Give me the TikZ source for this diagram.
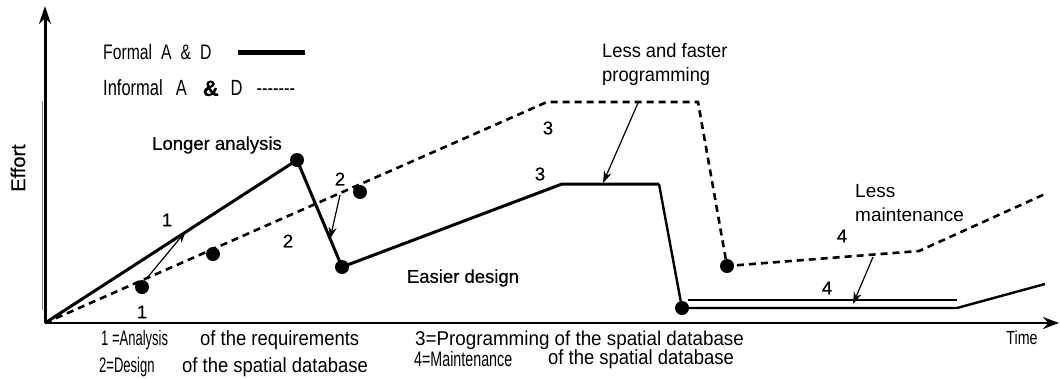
\documentclass[tikz,border=0pt]{standalone}
\usepackage{fontspec}
\setmainfont{Liberation Sans}
\newfontfamily\medfont[FakeBold=0.5]{Liberation Sans}
\newfontfamily\condfont[FakeStretch=0.62]{Liberation Sans}
\newfontfamily\narrowfont[FakeStretch=0.75]{Liberation Sans}
\newfontfamily\slimfont[FakeStretch=0.9]{Liberation Sans}
\usetikzlibrary{arrows.meta}
\tikzset{
  dot/.style={circle,fill,inner sep=0pt,minimum size=14pt},
  formal/.style={line width=3pt},
  informal/.style={line width=2.6pt,dash pattern=on 7pt off 5pt},
  pointer/.style={line width=1.2pt,-{Stealth[length=12pt,width=8pt]}},
  lbl/.style={inner sep=0pt,font=\medfont\fontsize{18.5}{20}\selectfont},
  note/.style={inner sep=0pt,anchor=west,font=\slimfont\fontsize{20.5}{22}\selectfont}
}
\begin{document}
\begin{tikzpicture}[x=1pt,y=-1pt]
\useasboundingbox (0,0) rectangle (1060,378);
% axes
\coordinate (O) at (45,323);
\coordinate (ytop) at (45,6);
\coordinate (xend) at (1059,323);
\draw[line width=3pt,-{Stealth[length=18pt,width=12pt]}] (O) -- (ytop);
\draw[line width=2.4pt,-{Stealth[length=16pt,width=12pt]}] (O) -- (xend);
\draw[line width=0.8pt,gray] (42,101) -- (42,310);
\node[lbl,rotate=90,font=\medfont\fontsize{20}{22}\selectfont] (effort) at (18,168) {Effort};
\node[note,anchor=center,font=\narrowfont\fontsize{19}{21}\selectfont] (time) at (1022,338) {Time};
% legend
\node[note,font=\narrowfont\fontsize{21}{23}\selectfont] (lformal) at (103,52) {Formal\hspace{9pt}A\hspace{9pt}\&\hspace{9pt}D};
\draw[line width=5pt] (238,52) -- (305,52);
\node[note,font=\narrowfont\fontsize{22}{24}\selectfont] (linformal) at (103,88)
  {Informal\hspace{13pt}A\hspace{16pt}{\medfont\bfseries\&}\hspace{12pt}D\hspace{14pt}{-}{-}{-}{-}{-}{-}{-}};
% formal analysis and design
\foreach \n/\p in {f0/{45,323},f1/{297,160},f2/{342,267},f3/{562,184},f4/{659,184},f5/{682,308},f6/{957,308},f7/{1045,284}}
  \coordinate (\n) at (\p);
\draw[formal] (f0) -- (f1) -- (f2) -- (f3) -- (f4);
\draw[formal,line width=2.4pt] (f4) -- (f5) -- (f6) -- (f7);
\draw[formal,line width=2.6pt] (688,300) -- (957,300);
\foreach \n in {f1,f2,f5} \node[dot] at (\n) {};
% informal analysis and design
\foreach \n/\p in {i0/{45,323},i1/{547,102},i2/{698,102},i3/{727,266},i4/{919,251},i5/{1045,194}}
  \coordinate (\n) at (\p);
\draw[informal] (i0) -- (i1) -- (i2) -- (i3) -- (i4) -- (i5);
\node[dot] (d1) at (142,287) {};
\node[dot] (d2) at (213,254) {};
\node[dot] (d3) at (360,192) {};
\node[dot] (d4) at (i3) {};
% pointers
\coordinate (a1) at (147,278); \coordinate (b1) at (186,231);
\coordinate (a2) at (340,195); \coordinate (b2) at (330,239);
\coordinate (a3) at (638,103); \coordinate (b3) at (603,183);
\coordinate (a4) at (873,257); \coordinate (b4) at (853,304);
\foreach \i in {1,...,4} \draw[pointer] (a\i) -- (b\i);
% phase numbers
\foreach \t/\p in {1/{167,220},1/{142,312},2/{288,241},2/{340,179},3/{548,128},3/{540,174},4/{842,236},4/{827,288}}
  \node[lbl] at (\p) {\t};
% comments
\node[lbl] (longer) at (217,145) {Longer analysis};
\node[lbl] (easier) at (463,278) {Easier design};
\node[note,anchor=north west,align=left,font=\fontsize{19.5}{24}\selectfont\addfontfeature{FakeStretch=0.94}] (faster) at (602,43) {Less and faster\\programming};
\node[note,anchor=north west,align=left,font=\fontsize{19}{24}\selectfont] (maint) at (855,184) {Less\\maintenance};
% phase names
\node[note,font=\condfont\fontsize{21}{23}\selectfont] at (101,340) {1 =Analysis};
\node[note] at (200,340) {of the requirements};
\node[note,font=\condfont\fontsize{21}{23}\selectfont] at (99,367) {2=Design};
\node[note] at (182,367) {of the spatial database};
\node[note,font=\fontsize{20}{22}\selectfont\addfontfeature{FakeStretch=0.94}] at (415,340) {3=Programming of the spatial database};
\node[note,font=\fontsize{21}{23}\selectfont\addfontfeature{FakeStretch=0.68}] at (414,359) {4=Maintenance};
\node[note] at (548,359) {of the spatial database};
\end{tikzpicture}
\end{document}
